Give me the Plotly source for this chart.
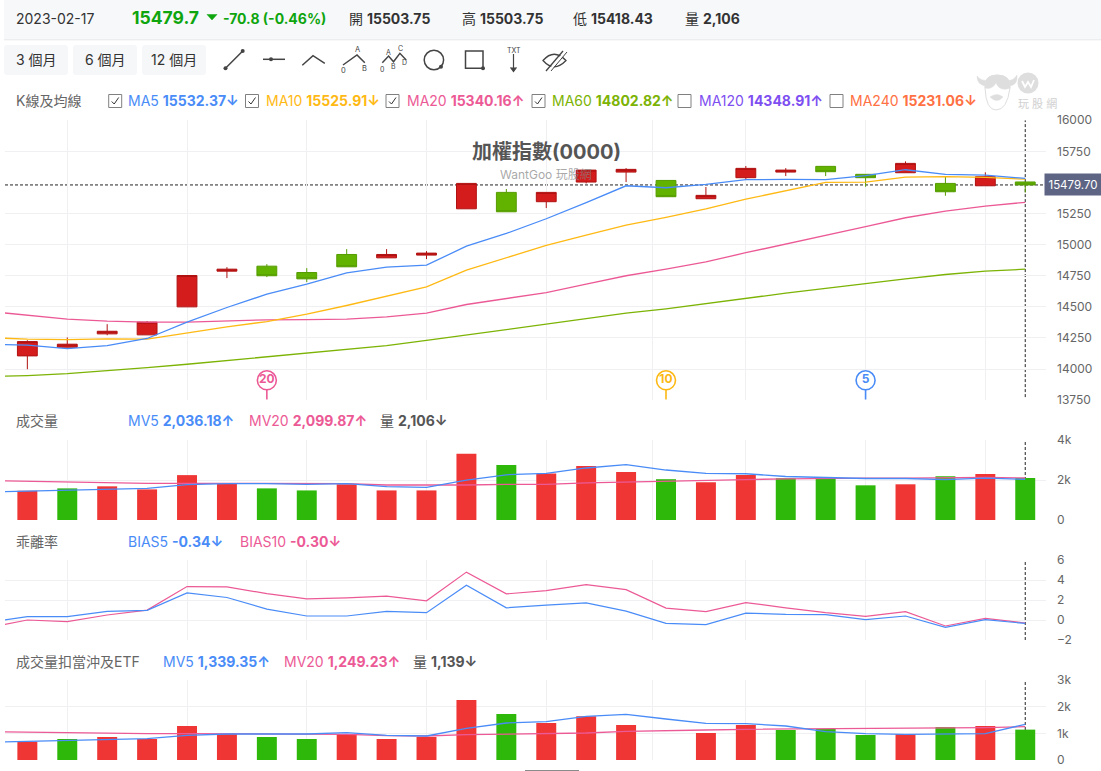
import plotly.graph_objects as go

# ---- Daily K-line values, oldest first ----
days = list(range(26))
opens = [14106, 14176, 14283, 14275, 14500, 14787, 14827, 14776, 14921, 14894, 14916, 15288, 15420,
         15345, 15503, 15583, 15516, 15369, 15538, 15583, 15629, 15565, 15578, 15492, 15473, 15503.75]
closes = [14221, 14200, 14304, 14377, 14752, 14803, 14750, 14725, 14822, 14921, 14932, 15492, 15264,
          15420, 15599, 15605, 15385, 15396, 15613, 15599, 15586, 15538, 15653, 15425, 15546, 15479.7]
highs = [14232, 14254, 14361, 14385, 14752, 14819, 14843, 14811, 14964, 14964, 14948, 15492, 15447,
         15420, 15599, 15615, 15516, 15463, 15632, 15615, 15629, 15565, 15669, 15546, 15581, 15503.75]
lows = [13999, 14176, 14272, 14275, 14500, 14731, 14739, 14699, 14822, 14894, 14884, 15288, 15264,
        15294, 15492, 15503, 15385, 15369, 15524, 15551, 15551, 15465, 15578, 15393, 15473, 15418.43]

# Moving averages start one session earlier so the lines run off the left edge
ma_days = list(range(-1, 26))
ma5 = [14201, 14192, 14165, 14189, 14246, 14377, 14495, 14602, 14683, 14774, 14819, 14835, 14988, 15090,
       15208, 15337, 15473, 15457, 15484, 15522, 15524, 15522, 15554, 15602, 15565, 15559, 15532.37]
ma10 = [14254, 14240, 14237, 14243, 14240, 14291, 14339, 14382, 14441, 14511, 14586, 14661, 14795, 14894,
        14994, 15077, 15157, 15219, 15288, 15366, 15433, 15500, 15503, 15543, 15546, 15540, 15525.91]
ma20 = [14465, 14436, 14401, 14385, 14377, 14377, 14388, 14396, 14398, 14401, 14420, 14449, 14519, 14565,
        14615, 14683, 14750, 14803, 14862, 14935, 15004, 15071, 15144, 15216, 15270, 15310, 15340.16]
ma60 = [13939, 13948, 13964, 13986, 14012, 14039, 14069, 14095, 14125, 14157, 14189, 14230, 14275, 14318,
        14361, 14404, 14449, 14484, 14527, 14565, 14610, 14648, 14688, 14725, 14760, 14787, 14802.82]

# Turnover panel
volume = [1462, 1581, 1683, 1530, 2244, 1836, 1581, 1479, 1785, 1479, 1479, 3315, 2754, 2329,
          2703, 2397, 2040, 1887, 2244, 2091, 2091, 1734, 1785, 2193, 2295, 2106]
mv5 = [1394, 1445, 1513, 1564, 1581, 1768, 1819, 1819, 1785, 1819, 1666, 1632, 1989, 2261, 2329,
       2601, 2771, 2499, 2329, 2312, 2176, 2125, 2074, 2074, 2023, 2091, 2036.18]
mv20 = [1972, 1938, 1887, 1853, 1836, 1836, 1836, 1836, 1819, 1819, 1751, 1734, 1751, 1785, 1785,
        1853, 1904, 1955, 1989, 2023, 2057, 2091, 2091, 2091, 2107, 2125, 2099.87]
UP, DOWN = "#f03535", "#2eb80a"
vol_colors = [UP, DOWN, UP, UP, UP, UP, DOWN, DOWN, UP, UP, UP, UP, DOWN, UP,
              UP, UP, DOWN, UP, UP, DOWN, DOWN, DOWN, UP, DOWN, UP, DOWN]

# Deviation rate panel
bias5 = [-0.23, 0.33, 0.33, 0.86, 0.96, 2.71, 2.25, 1.09, 0.40, 0.40, 0.86, 0.73, 3.47, 1.22, 1.49,
         1.72, 0.89, -0.33, -0.46, 0.69, 0.56, 0.53, 0.03, 0.40, -0.73, 0.03, -0.34]
bias10 = [-0.80, 0.00, -0.17, 0.50, 0.99, 3.34, 3.31, 2.64, 2.12, 2.21, 2.38, 1.92, 4.79, 2.61, 2.94,
          3.54, 3.04, 1.19, 0.83, 1.74, 1.22, 0.73, 0.36, 0.83, -0.60, 0.17, -0.30]

# Turnover excluding day trades and ETFs; session 16 has no figure
net_volume = [688, 788, 863, 788, 1275, 975, 863, 788, 975, 788, 863, 2250, 1725, 1388,
              1638, 1313, None, 1013, 1313, 1125, 1163, 938, 975, 1238, 1275, 1139]
net_mv5 = [663, 700, 750, 775, 800, 925, 975, 975, 975, 1025, 925, 900, 1188, 1388, 1438,
           1638, 1713, 1538, 1375, 1363, 1275, 1063, 988, 963, 963, 988, 1339.35]
net_mv20 = [1063, 1038, 1013, 988, 988, 988, 988, 975, 975, 963, 913, 900, 950, 975, 975,
            1013, 1075, 1113, 1125, 1150, 1163, 1175, 1175, 1175, 1200, 1213, 1249.23]

# Vertical grid sits on the first session of each period
period_ticks = [1, 4, 7, 10, 13, 15.65, 18, 21, 24]
# Price ticks; the slot nearest the last close is left to the price tag
price_ticks = [13750, 14000, 14250, 14500, 14750, 15000, 15250, 15750, 16000]
price_labels = ["13750", "14000", "14250", "14500", "14750", "15000", "15250", "15750", "16000"]
LAST = 25
LAST_CLOSE = 15479.7

# Alert pins on the K-line panel: session, label, colour
pins = [(6, "20", "#ec5a96"), (16, "10", "#fdb813"), (21, "5", "#4a8cf7")]

W, H = 1101, 771
BLUE, ORANGE, PINK, LIME = "#4a8cf7", "#ffb914", "#ec5a96", "#7cb305"
PURPLE, CORAL = "#7e4ff0", "#ff7043"
GRID = "#f0f0f2"
FONT = "Inter, 'Noto Sans CJK TC', sans-serif"


def px(x):
    return x / W


def py(y):
    return 1 - y / H


fig = go.Figure()

fig.add_trace(go.Candlestick(
    x=days, open=opens, high=highs, low=lows, close=closes, xaxis="x", yaxis="y",
    increasing=dict(line=dict(color="#b01212", width=1), fillcolor="#d41c1c"),
    decreasing=dict(line=dict(color="#569c00", width=1), fillcolor="#62b200"),
    whiskerwidth=0, hoverinfo="skip",
))
for values, color in ((ma60, LIME), (ma20, PINK), (ma10, ORANGE), (ma5, BLUE)):
    fig.add_trace(go.Scatter(x=ma_days, y=values, mode="lines", xaxis="x", yaxis="y",
                             line=dict(color=color, width=1.3), hoverinfo="skip"))

# Alert pins: stem and numbered circle
for day, label, color in pins:
    fig.add_trace(go.Scatter(x=[day, day], y=[13835, 13755], mode="lines", xaxis="x", yaxis="y",
                             line=dict(color=color, width=1.6), hoverinfo="skip"))
    fig.add_trace(go.Scatter(x=[day], y=[13910], mode="markers+text", text=[label], xaxis="x", yaxis="y",
                             textposition="middle center",
                             textfont=dict(family=FONT, size=12, color=color, weight="bold"),
                             marker=dict(size=19, color="white", line=dict(color=color, width=1.6)),
                             hoverinfo="skip"))

fig.add_trace(go.Bar(x=days, y=volume, marker=dict(color=vol_colors, line_width=0), width=0.5,
                     xaxis="x", yaxis="y2", hoverinfo="skip"))
for values, color in ((mv20, PINK), (mv5, BLUE)):
    fig.add_trace(go.Scatter(x=ma_days, y=values, mode="lines", xaxis="x", yaxis="y2",
                             line=dict(color=color, width=1.3), hoverinfo="skip"))

for values, color in ((bias10, PINK), (bias5, BLUE)):
    fig.add_trace(go.Scatter(x=ma_days, y=values, mode="lines", xaxis="x", yaxis="y3",
                             line=dict(color=color, width=1.2), hoverinfo="skip"))

fig.add_trace(go.Bar(x=days, y=net_volume, marker=dict(color=vol_colors, line_width=0), width=0.5,
                     xaxis="x", yaxis="y4", hoverinfo="skip"))
for values, color in ((net_mv20, PINK), (net_mv5, BLUE)):
    fig.add_trace(go.Scatter(x=ma_days, y=values, mode="lines", xaxis="x", yaxis="y4",
                             line=dict(color=color, width=1.3), hoverinfo="skip"))

shapes = []
annotations = []


def text(x, y, s, size=14, color="#333333", anchor="left"):
    annotations.append(dict(
        x=px(x), y=py(y), xref="paper", yref="paper", text=s, showarrow=False,
        xanchor=anchor, yanchor="middle", align=anchor, borderpad=0, borderwidth=0,
        font=dict(family=FONT, size=size, color=color),
    ))


def rect(x0, y0, x1, y1, fill=None, line=None, width=1):
    shapes.append(dict(type="rect", xref="paper", yref="paper", layer="above",
                       x0=px(x0), x1=px(x1), y0=py(y0), y1=py(y1),
                       fillcolor=fill or "rgba(0,0,0,0)",
                       line=dict(color=line or "rgba(0,0,0,0)", width=width)))


def path(points, color="#444444", width=1.5, fill=None, close=False):
    d = "M " + " L ".join(f"{px(x):.5f} {py(y):.5f}" for x, y in points) + (" Z" if close else "")
    shapes.append(dict(type="path", xref="paper", yref="paper", layer="above", path=d,
                       fillcolor=fill or "rgba(0,0,0,0)",
                       line=dict(color=color, width=width)))


def curve(d, color="#444444", width=1.5, fill=None):
    shapes.append(dict(type="path", xref="paper", yref="paper", layer="above", path=d,
                       fillcolor=fill or "rgba(0,0,0,0)",
                       line=dict(color=color, width=width)))


def circle(cx, cy, r, color="#444444", width=1.5, fill=None):
    shapes.append(dict(type="circle", xref="paper", yref="paper", layer="above",
                       x0=px(cx - r), x1=px(cx + r), y0=py(cy + r), y1=py(cy - r),
                       fillcolor=fill or "rgba(0,0,0,0)",
                       line=dict(color=color, width=width)))


def dot(cx, cy, r=2, color="#444444"):
    circle(cx, cy, r, color=color, width=0, fill=color)


# Quote bar
rect(4, 0, 1101, 39.5, fill="#f7f8fa")
path([(4, 39.8), (1101, 39.8)], color="#e6e7ea", width=1)
text(16, 18, "2023-02-17", 14, "#333333")
text(132, 17, "<b>15479.7</b>", 17.5, "#0ea50e")
path([(207, 14.5), (217, 14.5), (212, 20)], color="#0ea50e", width=0.5, fill="#0ea50e", close=True)
text(223, 18, "<b>-70.8 (-0.46%)</b>", 14, "#0ea50e")
text(349, 18, "開 <b>15503.75</b>", 14, "#333333")
text(462, 18, "高 <b>15503.75</b>", 14, "#333333")
text(573, 18, "低 <b>15418.43</b>", 14, "#333333")
text(685, 18, "量 <b>2,106</b>", 14, "#333333")


def button(x0, x1, label):
    r = 3
    y0, y1 = 45, 75
    d = (f"M {px(x0 + r)} {py(y0)} L {px(x1 - r)} {py(y0)} Q {px(x1)} {py(y0)} {px(x1)} {py(y0 + r)} "
         f"L {px(x1)} {py(y1 - r)} Q {px(x1)} {py(y1)} {px(x1 - r)} {py(y1)} "
         f"L {px(x0 + r)} {py(y1)} Q {px(x0)} {py(y1)} {px(x0)} {py(y1 - r)} "
         f"L {px(x0)} {py(y0 + r)} Q {px(x0)} {py(y0)} {px(x0 + r)} {py(y0)} Z")
    curve(d, color="rgba(0,0,0,0)", width=0, fill="#f6f7f9")
    text((x0 + x1) / 2, 60, label, 14, "#333333", anchor="center")


button(4, 68, "3 個月")
button(73, 137, "6 個月")
button(142, 206, "12 個月")

# Drawing tools toolbar
path([(225.5, 68.3), (242.7, 51)])
dot(225.5, 68.3)
dot(242.7, 51)
path([(263, 59.3), (285, 59.3)])
dot(271, 59.3)
path([(302.3, 65.3), (313, 55.7), (324.8, 63.3)])
path([(343, 65), (357, 55), (364.8, 62.7)])
text(357, 50, "A", 7.5, "#444444", anchor="center")
text(343, 70.7, "0", 7.5, "#444444", anchor="center")
text(364, 68.3, "B", 7.5, "#444444", anchor="center")
path([(382.3, 62.7), (388.6, 56), (393.5, 61.7), (399.9, 53.3), (406.2, 60)])
text(388.3, 52.3, "A", 7, "#444444", anchor="center")
text(400, 48.3, "C", 7, "#444444", anchor="center")
text(382, 69, "0", 7, "#444444", anchor="center")
text(393, 66, "B", 7, "#444444", anchor="center")
text(404.4, 62.3, "D", 7, "#444444", anchor="center")
circle(433.9, 60, 9.7)
dot(441, 66.7)
rect(465.5, 51, 483, 68.3, line="#444444", width=1.5)
dot(483, 68.3)
text(513.5, 50.7, "TXT", 7, "#444444", anchor="center")
path([(513.5, 54), (513.5, 71)], width=1.2)
path([(510.5, 67.5), (513.5, 71.5), (516.5, 67.5)], width=1.2, color="#444444", fill="#444444")
curve(f"M {px(543)} {py(60.5)} Q {px(554)} {py(48)} {px(566)} {py(60.5)} Q {px(554)} {py(73)} {px(543)} {py(60.5)} Z",
      width=1.3)
path([(549, 71), (566, 51)], color="#ffffff", width=2.4)
path([(546, 71), (563, 51)], width=1.3)
path([(551, 71), (567, 52)], width=1)

# Panel headers
text(16, 101, "K線及均線", 14, "#666666")


def check(x, checked=True):
    rect(x, 94.5, x + 13, 107.5, fill="#ffffff", line="#808080", width=1)
    if checked:
        path([(x + 3, 101.5), (x + 5.5, 104), (x + 10, 97.5)], color="#333333", width=1)


def legend(x, y, label, value, arrow, color):
    text(x, y, f"{label} <b>{value}{arrow}</b>", 14, color)


for cx, on in ((108.7, True), (245.5, True), (386, True), (532, True), (678, False), (830, False)):
    check(cx, on)
legend(128, 101, "MA5", "15532.37", "↓", BLUE)
legend(265.5, 101, "MA10", "15525.91", "↓", ORANGE)
legend(407, 101, "MA20", "15340.16", "↑", PINK)
legend(552, 101, "MA60", "14802.82", "↑", LIME)
legend(698.5, 101, "MA120", "14348.91", "↑", PURPLE)
legend(850, 101, "MA240", "15231.06", "↓", CORAL)

text(16, 421, "成交量", 14, "#666666")
legend(128, 421, "MV5", "2,036.18", "↑", BLUE)
legend(249, 421, "MV20", "2,099.87", "↑", PINK)
legend(380, 421, "量", "2,106", "↓", "#555555")

text(16, 541, "乖離率", 14, "#666666")
legend(128, 541, "BIAS5", "-0.34", "↓", BLUE)
legend(240, 541, "BIAS10", "-0.30", "↓", PINK)

text(16, 661, "成交量扣當沖及ETF", 14, "#666666")
legend(163, 661, "MV5", "1,339.35", "↑", BLUE)
legend(284, 661, "MV20", "1,249.23", "↑", PINK)
legend(413, 661, "量", "1,139", "↓", "#555555")

# Chart heading and brand line over the K-line panel
text(546, 152, "<b>加權指數(0000)</b>", 20, "#555555", anchor="center")
text(546, 175, "WantGoo 玩股網", 12, "rgba(130,130,130,0.7)", anchor="center")

# Brand mark at the top right
LOGO = "#dedede"
curve(f"M {px(977)} {py(76)} Q {px(977)} {py(86)} {px(988)} {py(86)} L {px(1008)} {py(86)} "
      f"Q {px(1018)} {py(86)} {px(1017)} {py(75)} Q {px(1013)} {py(82)} {px(1006)} {py(80)} "
      f"L {px(990)} {py(80)} Q {px(982)} {py(82)} {px(977)} {py(76)} Z", color=LOGO, width=0.5, fill=LOGO)
curve(f"M {px(985)} {py(88)} Q {px(986)} {py(110)} {px(996)} {py(110)} Q {px(1007)} {py(110)} "
      f"{px(1010)} {py(88)} Q {px(1011)} {py(75)} {px(997)} {py(75)} Q {px(984)} {py(75)} {px(985)} {py(88)} Z",
      color=LOGO, width=1, fill="#ffffff")
curve(f"M {px(985)} {py(88)} Q {px(984)} {py(75)} {px(997)} {py(75)} Q {px(1011)} {py(75)} {px(1010)} {py(88)} "
      f"Q {px(1000)} {py(92)} {px(996)} {py(83)} Q {px(992)} {py(90)} {px(985)} {py(88)} Z",
      color=LOGO, width=0.5, fill=LOGO)
curve(f"M {px(990)} {py(97)} Q {px(997)} {py(92)} {px(1003)} {py(97)} Q {px(997)} {py(104)} {px(990)} {py(97)} Z",
      color=LOGO, width=0.5, fill=LOGO)
circle(1028, 83, 10.5, color=LOGO, width=0, fill=LOGO)
path([(1022, 81), (1025, 87), (1028, 82), (1031, 87), (1034, 80)], color="#ffffff", width=1.8)
text(1037, 104, "玩 股 網", 11, "#d0d0d0", anchor="center")

# Scroll handle peeking in at the bottom edge
rect(525, 770, 579, 771, fill="#8a8a8a")

# Cross-hair on the last session, behind the marks
DASH = dict(color="#222222", width=1, dash="3px,2px")
shapes.append(dict(type="line", xref="x", yref="y", layer="below", x0=-0.56, x1=25.52,
                   y0=LAST_CLOSE, y1=LAST_CLOSE, line=DASH))
for axis, low, high in (("y", 13775, 16000), ("y2", 0, 4000), ("y3", -2, 6), ("y4", 0, 3000)):
    shapes.append(dict(type="line", xref="x", yref=axis, layer="below", x0=LAST, x1=LAST,
                       y0=low, y1=high, line=DASH))


def value_axis(top, bottom, rng, ticks, labels=None):
    axis = dict(domain=[py(bottom), py(top)], range=rng, side="right", anchor="x", tickmode="array",
                tickvals=ticks, gridcolor=GRID, gridwidth=1, zeroline=False, showline=False, ticks="",
                automargin=False, ticklabelstandoff=10,
                tickfont=dict(family=FONT, size=12, color="#666666"), fixedrange=True)
    if labels:
        axis["ticktext"] = labels
    return axis


# Last-price tag on the axis
annotations.append(dict(
    x=px(1073), y=LAST_CLOSE, xref="paper", yref="y", text="15479.70", showarrow=False,
    xanchor="center", yanchor="middle", width=54, height=19, bgcolor="#5d6484",
    font=dict(family=FONT, size=11.5, color="#ffffff"),
))

fig.update_layout(
    width=W, height=H, autosize=False, margin=dict(l=0, r=0, t=0, b=0),
    paper_bgcolor="#ffffff", plot_bgcolor="#ffffff", showlegend=False, boxgap=0.29,
    barmode="overlay", hovermode=False,
    xaxis=dict(domain=[px(5), px(1046)], range=[-0.56, 25.52], anchor="y4", tickmode="array",
               tickvals=period_ticks, showticklabels=False, gridcolor=GRID, gridwidth=1, zeroline=False,
               showline=False, ticks="", automargin=False, rangeslider=dict(visible=False), fixedrange=True),
    yaxis=value_axis(120.2, 400.2, [13750, 16000], price_ticks, price_labels),
    yaxis2=value_axis(440, 520, [0, 4000], [0, 2000, 4000], ["0", "2k", "4k"]),
    yaxis3=value_axis(560, 640, [-2, 6], [-2, 0, 2, 4, 6]),
    yaxis4=value_axis(680, 760, [0, 3000], [0, 1000, 2000, 3000], ["0", "1k", "2k", "3k"]),
    shapes=shapes, annotations=annotations,
    font=dict(family=FONT),
)

fig.write_html("out.html", config=dict(displayModeBar=False))
